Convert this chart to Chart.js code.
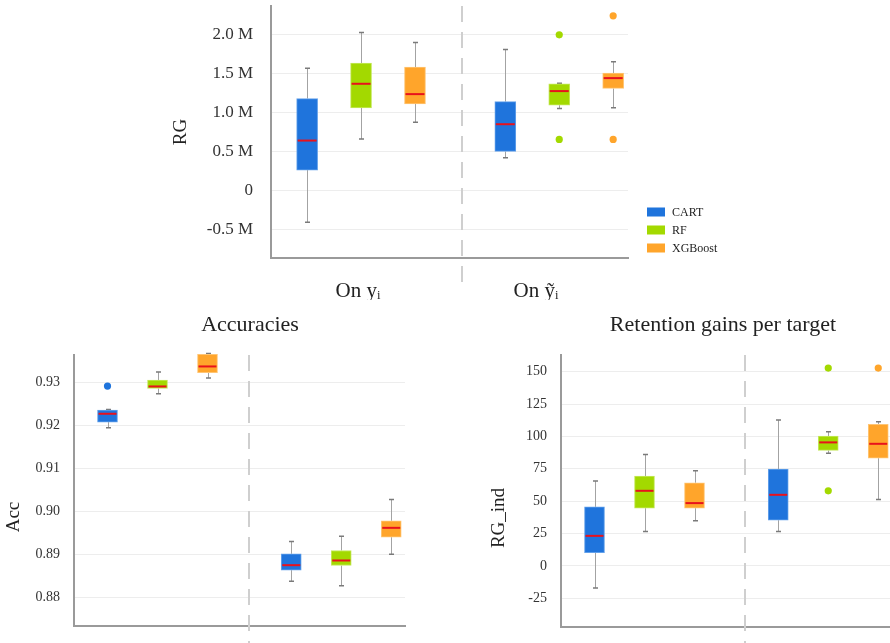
<!DOCTYPE html>
<html>
<head>
<meta charset="utf-8">
<script src="https://cdn.jsdelivr.net/npm/chart.js@4.4.1/dist/chart.umd.min.js"></script>
<style>
  html, body { margin: 0; padding: 0; background: #fff; overflow: hidden; width: 890px; height: 643px; }
  canvas { position: absolute; }
  #rgChart { left: 0; top: 0; }
  #accChart { left: 0; top: 300px; }
  #indChart { left: 445px; top: 300px; }
</style>
</head>
<body>
<canvas id="rgChart" width="890" height="300"></canvas>
<canvas id="accChart" width="445" height="343"></canvas>
<canvas id="indChart" width="460" height="343"></canvas>
<script>
const models = ['CART', 'RF', 'XGBoost'];
const groupLabels = ['On yᵢ', 'On ỹᵢ'];

// each box: [low whisker, q1, median, q3, high whisker], first On y_i then On ~y_i
const rgCART = [[-0.41, 0.26, 0.64, 1.18, 1.57], [0.42, 0.50, 0.85, 1.14, 1.81]];
const rgRF = [[0.66, 1.06, 1.37, 1.635, 2.03], [1.053, 1.095, 1.276, 1.37, 1.378]];
const rgXGB = [[0.875, 1.11, 1.237, 1.585, 1.90], [1.061, 1.31, 1.443, 1.507, 1.653]];
const rgOutCART = [[], []];
const rgOutRF = [[], [2.0, 0.654]];
const rgOutXGB = [[], [2.244, 0.654]];
const rgTicks = [-0.5, 0, 0.5, 1.0, 1.5, 2.0];

const accCART = [[0.91938, 0.9207, 0.92264, 0.92349, 0.92364], [0.88372, 0.88628, 0.88744, 0.89008, 0.89295]];
const accRF = [[0.92729, 0.92853, 0.92899, 0.93047, 0.93233], [0.88264, 0.88736, 0.88853, 0.89085, 0.89419]];
const accXGB = [[0.93093, 0.93217, 0.93364, 0.93643, 0.93667], [0.88999, 0.89395, 0.89612, 0.89775, 0.90271]];
const accOutCART = [[0.92907], []];
const accOutRF = [[], []];
const accOutXGB = [[], []];
const accTicks = [0.88, 0.89, 0.90, 0.91, 0.92, 0.93];

const indCART = [[-17.0, 10.3, 23.2, 45.6, 65.5], [26.5, 35.3, 54.9, 74.7, 112.6]];
const indRF = [[26.5, 44.6, 58.0, 69.3, 86.1], [87.1, 89.2, 95.4, 100.3, 103.6]];
const indXGB = [[34.8, 44.6, 48.5, 64.2, 73.5], [51.3, 83.2, 94.3, 109.3, 111.3]];
const indOutCART = [[], []];
const indOutRF = [[], [152.8, 58.0]];
const indOutXGB = [[], [152.8]];
const indTicks = [-25, 0, 25, 50, 75, 100, 125, 150];

const colors = ['#1f74dc', '#a3d900', '#ffa52b'];
const borders = ['#62a0ea', '#c5e85c', '#ffc574'];
// x slot of every box: [group][model]
const xPos = [[0.67, 1.67, 2.67], [4.345, 5.345, 6.345]];
const xMax = 6.62;

Chart.defaults.font.family = "'Liberation Serif', 'DejaVu Serif', serif";
Chart.defaults.color = '#333';

function boxDatasets(stats, outliers, thickness) {
  const sets = [];
  stats.forEach((s, m) => {
    sets.push({
      type: 'bar',
      label: models[m],
      data: s.map((v, g) => ({ x: xPos[g][m], y: [v[1], v[3]] })),
      backgroundColor: colors[m],
      borderColor: borders[m],
      borderWidth: 1,
      borderSkipped: false,
      barThickness: thickness,
      grouped: false,
      clip: false
    });
  });
  outliers.forEach((o, m) => {
    const pts = [];
    o.forEach((vals, g) => vals.forEach(v => pts.push({ x: xPos[g][m], y: v })));
    sets.push({
      type: 'scatter',
      label: models[m] + ' outliers',
      data: pts,
      pointRadius: 3.6,
      pointHoverRadius: 3.6,
      backgroundColor: colors[m],
      borderWidth: 0
    });
  });
  return sets;
}

const boxExtras = {
  id: 'boxExtras',
  beforeDatasetsDraw(chart, args, opts) {
    const ctx = chart.ctx, xs = chart.scales.x, ys = chart.scales.y;
    ctx.save();
    // separator between the two groups
    const sx = Math.round(xs.getPixelForValue(opts.sepX));
    ctx.strokeStyle = '#cfcfcf';
    ctx.lineWidth = 2;
    ctx.setLineDash([16, 10]);
    ctx.beginPath();
    ctx.moveTo(sx, chart.chartArea.top);
    ctx.lineTo(sx, opts.sepEnd);
    ctx.stroke();
    ctx.setLineDash([]);
    // whiskers
    opts.stats.forEach((s, m) => {
      s.forEach((v, g) => {
        const x = Math.round(xs.getPixelForValue(xPos[g][m])) + 0.5;
        ctx.strokeStyle = '#a3a3a3';
        ctx.lineWidth = 1;
        ctx.beginPath();
        ctx.moveTo(x, ys.getPixelForValue(v[0]));
        ctx.lineTo(x, ys.getPixelForValue(v[1]));
        ctx.moveTo(x, ys.getPixelForValue(v[3]));
        ctx.lineTo(x, ys.getPixelForValue(v[4]));
        ctx.stroke();
        ctx.strokeStyle = '#7a7a7a';
        ctx.lineWidth = 1.5;
        ctx.beginPath();
        [v[0], v[4]].forEach(w => {
          const y = ys.getPixelForValue(w);
          ctx.moveTo(x - 2.5, y);
          ctx.lineTo(x + 2.5, y);
        });
        ctx.stroke();
      });
    });
    ctx.restore();
  },
  afterDatasetsDraw(chart, args, opts) {
    const ctx = chart.ctx, xs = chart.scales.x, ys = chart.scales.y;
    ctx.save();
    ctx.strokeStyle = '#e8121c';
    ctx.lineWidth = 2;
    opts.stats.forEach((s, m) => {
      s.forEach((v, g) => {
        const x = xs.getPixelForValue(xPos[g][m]);
        const y = ys.getPixelForValue(v[2]);
        ctx.beginPath();
        ctx.moveTo(x - opts.width / 2 + 1, y);
        ctx.lineTo(x + opts.width / 2 - 1, y);
        ctx.stroke();
      });
    });
    ctx.restore();
  },
  afterDraw(chart, args, opts) {
    const ctx = chart.ctx;
    ctx.save();
    ctx.fillStyle = '#222';
    ctx.textAlign = 'center';
    ctx.textBaseline = 'middle';
    if (opts.title) {
      ctx.font = "22px 'Liberation Serif', serif";
      ctx.fillText(opts.title.text, opts.title.x, opts.title.y);
    }
    if (opts.yTitle) {
      ctx.font = "19px 'Liberation Serif', serif";
      ctx.translate(opts.yTitle.x, opts.yTitle.y);
      ctx.rotate(-Math.PI / 2);
      ctx.fillText(opts.yTitle.text, 0, 0);
      ctx.setTransform(1, 0, 0, 1, 0, 0);
    }
    if (opts.legend) {
      ctx.font = "12px 'Liberation Serif', serif";
      ctx.textAlign = 'left';
      models.forEach((name, m) => {
        const y = opts.legend.y + m * 18;
        ctx.fillStyle = colors[m];
        ctx.fillRect(opts.legend.x, y - 4.5, 18, 9);
        ctx.fillStyle = '#222';
        ctx.fillText(name, opts.legend.x + 25, y + 1);
      });
    }
    ctx.restore();
  }
};

function makeChart(id, cfg) {
  return new Chart(document.getElementById(id), {
    type: 'bar',
    data: { datasets: boxDatasets(cfg.stats, cfg.outliers, cfg.width) },
    options: {
      responsive: false,
      animation: false,
      events: [],
      layout: { padding: cfg.padding },
      plugins: {
        legend: { display: false },
        tooltip: { enabled: false },
        boxExtras: {
          stats: cfg.stats, width: cfg.width, sepX: cfg.sepX, sepEnd: cfg.sepEnd,
          title: cfg.title, yTitle: cfg.yTitle, legend: cfg.legend
        }
      },
      scales: {
        x: {
          type: 'linear',
          min: 0,
          max: xMax,
          offset: false,
          grid: { display: false },
          border: { color: '#9a9a9a', width: 2 },
          ticks: {
            display: !!cfg.xTicks,
            padding: 13,
            font: { size: 21 },
            color: '#222',
            maxRotation: 0,
            autoSkip: false,
            callback: (v, i) => groupLabels[i]
          },
          afterBuildTicks: s => { if (cfg.xTicks) s.ticks = cfg.xTicks.map(v => ({ value: v })); },
          afterFit: s => { s.height = cfg.xHeight; s.paddingLeft = 0; s.paddingRight = 0; }
        },
        y: {
          min: cfg.yMin,
          max: cfg.yMax,
          grid: { color: '#ededed', lineWidth: 1, drawTicks: false },
          border: { color: '#9a9a9a', width: 2 },
          ticks: {
            padding: cfg.tickPad,
            font: { size: cfg.tickSize },
            color: '#333',
            includeBounds: false,
            callback: cfg.tickLabel
          },
          afterBuildTicks: s => { s.ticks = cfg.yTicks.map(v => ({ value: v })); },
          afterFit: s => { s.width = cfg.yWidth; s.paddingTop = 0; s.paddingBottom = 0; }
        }
      }
    },
    plugins: [boxExtras]
  });
}

makeChart('rgChart', {
  stats: [rgCART, rgRF, rgXGB],
  outliers: [rgOutCART, rgOutRF, rgOutXGB],
  width: 21,
  yMin: -0.87, yMax: 2.37, yTicks: rgTicks,
  tickLabel: v => v === 0 ? '0' : v.toFixed(1) + ' M',
  tickSize: 17, tickPad: 18, yWidth: 100,
  xTicks: [1.613, 4.914], xHeight: 42,
  padding: { left: 171, top: 6, right: 262, bottom: 0 },
  sepX: 3.536, sepEnd: 290,
  yTitle: { text: 'RG', x: 181, y: 132 },
  legend: { x: 647, y: 212 }
});

makeChart('accChart', {
  stats: [accCART, accRF, accXGB],
  outliers: [accOutCART, accOutRF, accOutXGB],
  width: 20,
  yMin: 0.8733, yMax: 0.9363, yTicks: accTicks,
  tickLabel: v => v.toFixed(2),
  tickSize: 14, tickPad: 14, yWidth: 60,
  xTicks: null, xHeight: 0,
  padding: { left: 14, top: 55, right: 40, bottom: 17 },
  sepX: 3.497, sepEnd: 343,
  title: { text: 'Accuracies', x: 250, y: 25 },
  yTitle: { text: 'Acc', x: 14, y: 217 }
});

makeChart('indChart', {
  stats: [indCART, indRF, indXGB],
  outliers: [indOutCART, indOutRF, indOutXGB],
  width: 20,
  yMin: -47.2, yMax: 162.9, yTicks: indTicks,
  tickLabel: v => String(v),
  tickSize: 14, tickPad: 14, yWidth: 60,
  xTicks: null, xHeight: 0,
  padding: { left: 56, top: 55, right: 13, bottom: 16 },
  sepX: 3.688, sepEnd: 343,
  title: { text: 'Retention gains per target', x: 278, y: 25 },
  yTitle: { text: 'RG_ind', x: 54, y: 218 }
});
</script>
</body>
</html>
